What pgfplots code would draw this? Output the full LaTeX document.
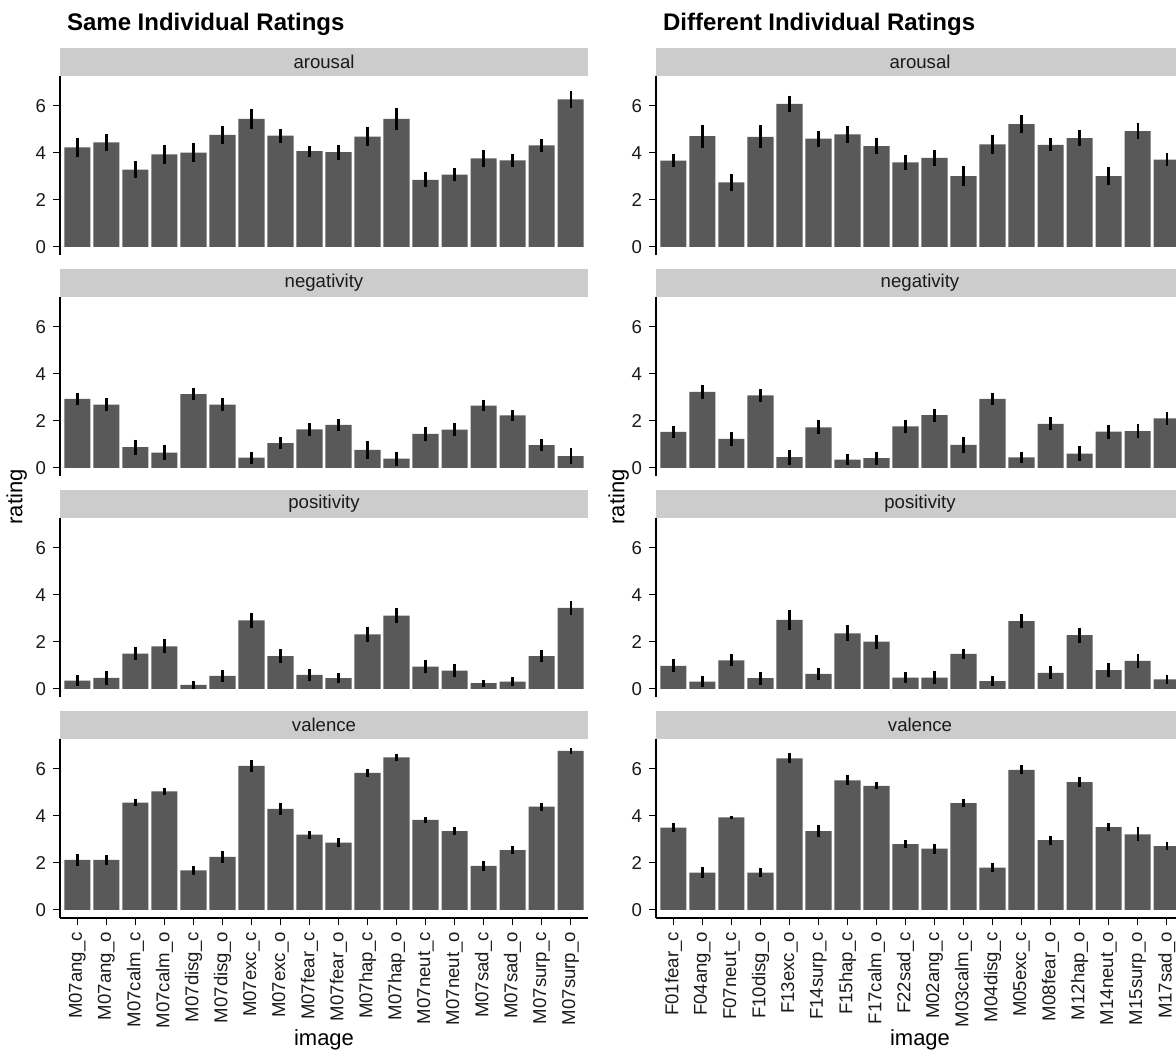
\documentclass[border=0pt]{standalone}
\usepackage{pgfplots}
\pgfplotsset{compat=1.18}
\usepackage{pgfplotstable}
\usepackage{fontspec}
\setmainfont{Liberation Sans}
\definecolor{barc}{HTML}{595959}
\definecolor{stripc}{HTML}{CCCCCC}
\definecolor{txt}{HTML}{1A1A1A}
\newcommand{\tsz}{\fontsize{9.3}{11}\selectfont}

\pgfplotstableread{
x a ae n ne p pe v ve
0 4.23 0.42 2.93 0.26 0.35 0.25 2.13 0.26
1 4.44 0.35 2.69 0.29 0.46 0.28 2.13 0.22
2 3.28 0.37 0.88 0.32 1.50 0.27 4.56 0.15
3 3.93 0.39 0.65 0.32 1.81 0.29 5.04 0.15
4 4.01 0.42 3.14 0.25 0.17 0.18 1.68 0.19
5 4.76 0.38 2.69 0.27 0.55 0.27 2.25 0.27
6 5.45 0.42 0.43 0.26 2.91 0.32 6.13 0.25
7 4.73 0.30 1.05 0.24 1.39 0.30 4.30 0.25
8 4.07 0.23 1.64 0.28 0.59 0.25 3.20 0.17
9 4.03 0.32 1.83 0.25 0.45 0.22 2.86 0.18
10 4.69 0.39 0.76 0.39 2.32 0.32 5.83 0.18
11 5.45 0.47 0.39 0.30 3.12 0.34 6.49 0.16
12 2.85 0.32 1.44 0.29 0.94 0.27 3.83 0.13
13 3.07 0.29 1.63 0.26 0.77 0.28 3.35 0.18
14 3.76 0.36 2.65 0.25 0.24 0.15 1.87 0.21
15 3.68 0.28 2.23 0.23 0.31 0.18 2.54 0.18
16 4.32 0.27 0.97 0.27 1.39 0.26 4.39 0.17
17 6.27 0.38 0.50 0.35 3.44 0.30 6.76 0.13
}\sametab

\pgfplotstableread{
x a ae n ne p pe v ve
0 3.67 0.29 1.53 0.25 0.98 0.27 3.50 0.20
1 4.71 0.49 3.23 0.29 0.31 0.25 1.58 0.23
2 2.74 0.36 1.23 0.30 1.21 0.26 3.93 0.08
3 4.68 0.49 3.08 0.28 0.45 0.27 1.58 0.19
4 6.08 0.35 0.45 0.31 2.93 0.41 6.45 0.22
5 4.60 0.35 1.72 0.30 0.64 0.25 3.35 0.27
6 4.78 0.38 0.35 0.23 2.36 0.34 5.51 0.21
7 4.29 0.36 0.41 0.27 2.01 0.30 5.28 0.15
8 3.59 0.33 1.76 0.28 0.48 0.23 2.80 0.16
9 3.78 0.34 2.24 0.28 0.48 0.26 2.60 0.21
10 3.01 0.41 0.98 0.33 1.49 0.22 4.54 0.17
11 4.36 0.40 2.93 0.26 0.33 0.22 1.80 0.20
12 5.22 0.37 0.44 0.25 2.88 0.30 5.96 0.19
13 4.34 0.28 1.87 0.28 0.68 0.27 2.97 0.19
14 4.63 0.34 0.60 0.33 2.28 0.32 5.44 0.22
15 3.01 0.38 1.54 0.30 0.80 0.30 3.52 0.16
16 4.92 0.34 1.56 0.30 1.19 0.29 3.21 0.30
17 3.71 0.28 2.10 0.26 0.40 0.18 2.71 0.17
}\difftab

\pgfplotsset{
  facet/.style={
    scale only axis, width=264pt, height=89.5pt,
    xmin=-0.6, xmax=17.6, ymin=-0.35, ymax=7.27,
    ytick={0,2,4,6}, yticklabels={0,2,4,6},
    axis y line*=left,
    axis line style={line width=0.55pt, -},
    tick align=outside, major tick length=3.5pt,
    tick style={line width=0.55pt, black},
    yticklabel style={font=\tsz, text=txt},
  },
  nox/.style={axis x line=none},
  withx/.style={axis x line*=bottom, xtick={0,...,17},
    xticklabel style={rotate=90, anchor=east, font=\tsz, text=txt}},
}

\newcommand{\facet}[7]{%
  \begin{axis}[facet, at={(#1pt,-#2pt)}, anchor=north west, #6]
    \addplot[ybar, bar width=0.9, bar shift=0pt, fill=barc, draw=none,
      error bars/.cd, y dir=both, y explicit, error mark=none,
      error bar style={line width=1.1pt, black}]
      table[x=x, y=#4, y error=#5] {#3};
  \end{axis}
  \fill[stripc] (#1pt,-#2pt) rectangle ({#1pt+264pt},{-#2pt+14.25pt});
  \node[font=\tsz, text=txt] at ({#1pt+132pt},{-#2pt+7.125pt}) {#7};
}

\begin{document}
\begin{tikzpicture}
\useasboundingbox (0,0) rectangle (588pt,-527.5pt);
\begin{scope}
\clip (0,0) rectangle (588pt,-527.5pt);

\facet{30}{38}{\sametab}{a}{ae}{nox}{arousal}
\facet{30}{148.5}{\sametab}{n}{ne}{nox}{negativity}
\facet{30}{259}{\sametab}{p}{pe}{nox}{positivity}
\facet{30}{369.5}{\sametab}{v}{ve}{withx, xticklabels={M07ang\_c,M07ang\_o,M07calm\_c,M07calm\_o,M07disg\_c,M07disg\_o,M07exc\_c,M07exc\_o,M07fear\_c,M07fear\_o,M07hap\_c,M07hap\_o,M07neut\_c,M07neut\_o,M07sad\_c,M07sad\_o,M07surp\_c,M07surp\_o}}{valence}

\facet{328}{38}{\difftab}{a}{ae}{nox}{arousal}
\facet{328}{148.5}{\difftab}{n}{ne}{nox}{negativity}
\facet{328}{259}{\difftab}{p}{pe}{nox}{positivity}
\facet{328}{369.5}{\difftab}{v}{ve}{withx, xticklabels={F01fear\_c,F04ang\_o,F07neut\_c,F10disg\_o,F13exc\_o,F14surp\_c,F15hap\_c,F17calm\_o,F22sad\_c,M02ang\_c,M03calm\_c,M04disg\_c,M05exc\_c,M08fear\_o,M12hap\_o,M14neut\_o,M15surp\_o,M17sad\_o}}{valence}

\node[anchor=base west, font=\fontsize{12}{14}\selectfont\bfseries] at (30pt,-15.4pt) {Same Individual Ratings};
\node[anchor=base west, font=\fontsize{12}{14}\selectfont\bfseries] at (328pt,-15.4pt) {Different Individual Ratings};
\node[anchor=base, font=\fontsize{11}{13}\selectfont, text=black] at (162pt,-522.5pt) {image};
\node[anchor=base, font=\fontsize{11}{13}\selectfont, text=black] at (460pt,-522.5pt) {image};
\node[rotate=90, font=\fontsize{11}{13}\selectfont, text=black] at (8.3pt,-248.5pt) {rating};
\node[rotate=90, font=\fontsize{11}{13}\selectfont, text=black] at (309.3pt,-248.5pt) {rating};
\end{scope}
\end{tikzpicture}
\end{document}
